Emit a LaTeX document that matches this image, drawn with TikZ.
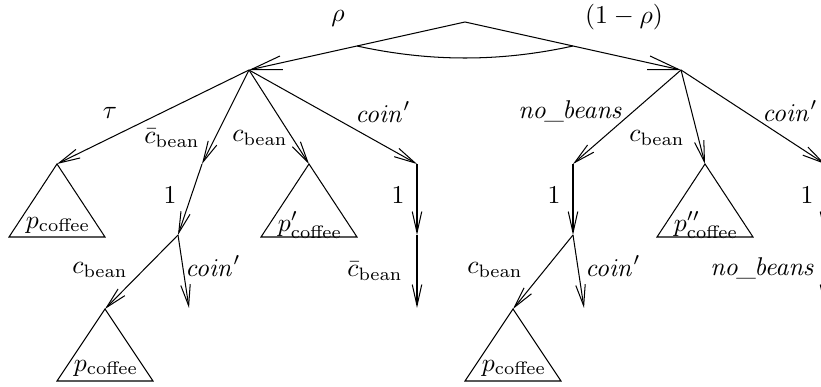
\documentclass[tikz,border=0pt]{standalone}
\usetikzlibrary{arrows.meta,calc}
\begin{document}
\begin{tikzpicture}[x=0.389pt,y=-0.389pt,
  edge/.style={-{Straight Barb[length=8.2pt,width=3.7pt]}, line width=0.4pt},
  bigedge/.style={-{Straight Barb[length=12pt,width=5.4pt]}, line width=0.4pt},
  lbl/.style={inner sep=0pt},
  tri/.style={draw, line width=0.4pt, line join=miter}]
\useasboundingbox (0,0) rectangle (821,387);
\clip (0,0) rectangle (821,387);
% tree points
\coordinate (root) at (465,22);
\coordinate (L) at (249,70);
\coordinate (R) at (681,70);
\coordinate (T1) at (57,164);
\coordinate (B1) at (202,164);
\coordinate (C1) at (309,164);
\coordinate (D1) at (417,164);
\coordinate (B2) at (178,235);
\coordinate (B3) at (105,309);
\coordinate (B4) at (189,308);
\coordinate (D2) at (417,235);
\coordinate (D3) at (417,308);
\coordinate (E1) at (573,164);
\coordinate (F1) at (705,164);
\coordinate (G1) at (825,164);
\coordinate (E2) at (573,235);
\coordinate (E3) at (513,309);
\coordinate (E4) at (584,308);
\coordinate (G2) at (825,235);
\coordinate (G3) at (825,308);
% top edges and arc
\draw[bigedge] (root) -- (L);
\draw[bigedge] (root) -- (R);
\coordinate (m1) at ($(root)!0.5!(L)$);
\coordinate (m2) at ($(root)!0.5!(R)$);
\draw[line width=0.4pt] (m1) .. controls +(73,16) and +(-73,16) .. (m2);
\node[lbl] (lrho) at (338,18) {$\rho$};
\node[lbl] (lrho2) at (624,17) {$(1-\rho)$};
% left subtree
\draw[edge] (L) -- (T1);
\draw[edge] (L) -- (B1);
\draw[edge] (L) -- (C1);
\draw[edge] (L) -- (D1);
\node[lbl] (ltau) at (110,113) {$\tau$};
\node[lbl] (lcb1) at (172,138) {$\bar{c}_{\mathrm{bean}}$};
\node[lbl] (lc1) at (260,138) {$c_{\mathrm{bean}}$};
\node[lbl] (lcoin1) at (383,112) {$\mathit{coin}'$};
\draw[edge] (B1) -- (B2);
\node[lbl] (lone1) at (170,195) {$1$};
\draw[edge] (B2) -- (B3);
\draw[edge] (B2) -- (B4);
\node[lbl] (lc2) at (100,270) {$c_{\mathrm{bean}}$};
\node[lbl] (lcoin2) at (213,266) {$\mathit{coin}'$};
\draw[edge] (D1) -- (D2);
\draw[edge] (D2) -- (D3);
\node[lbl] (lone2) at (398,195) {$1$};
\node[lbl] (lcb2) at (375,271) {$\bar{c}_{\mathrm{bean}}$};
% right subtree
\draw[edge] (R) -- (E1);
\draw[edge] (R) -- (F1);
\draw[edge] (R) -- (G1);
\node[lbl] (lnb1) at (570,111) {\textit{no\kern-.02em\_\kern-.08em beans}};
\node[lbl] (lc3) at (657,138) {$c_{\mathrm{bean}}$};
\node[lbl] (lcoin3) at (790,111) {$\mathit{coin}'$};
\draw[edge] (E1) -- (E2);
\node[lbl] (lone3) at (554,195) {$1$};
\draw[edge] (E2) -- (E3);
\draw[edge] (E2) -- (E4);
\node[lbl] (lc4) at (495,270) {$c_{\mathrm{bean}}$};
\node[lbl] (lcoin4) at (613,266) {$\mathit{coin}'$};
\draw[edge] (G1) -- (G2);
\draw[edge] (G2) -- (G3);
\node[lbl] (lone4) at (807,195) {$1$};
\node[lbl] (lnb2) at (762,268) {\textit{no\kern-.02em\_\kern-.08em beans}};
% triangles
\draw[tri] (T1) -- +(-48,73) -- +(48,73) -- cycle;
\node[lbl] (pT) at ($(T1)+(1,61)$) {$p_{\mathrm{coffee}}$};
\draw[tri] (C1) -- +(-48,73) -- +(48,73) -- cycle;
\node[lbl] (pC) at ($(C1)+(1,61)$) {$p'_{\mathrm{coffee}}$};
\draw[tri] (B3) -- +(-48,72) -- +(48,72) -- cycle;
\node[lbl] (pB) at ($(B3)+(1,59)$) {$p_{\mathrm{coffee}}$};
\draw[tri] (E3) -- +(-48,72) -- +(48,72) -- cycle;
\node[lbl] (pE) at ($(E3)+(1,59)$) {$p_{\mathrm{coffee}}$};
\draw[tri] (F1) -- +(-48,73) -- +(48,73) -- cycle;
\node[lbl] (pF) at ($(F1)+(1,61)$) {$p''_{\mathrm{coffee}}$};
\end{tikzpicture}
\end{document}
